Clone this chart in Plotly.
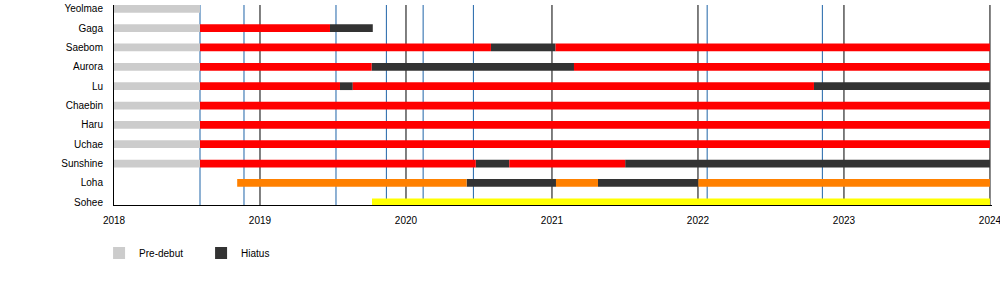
import datetime as dt
import plotly.graph_objects as go

# ---------------- data ----------------
members = ["Yeolmae", "Gaga", "Saebom", "Aurora", "Lu", "Chaebin", "Haru",
           "Uchae", "Sunshine", "Loha", "Sohee"]

axis_start = "2018-01-01"
axis_end = "2024-01-01"
debut = "2018-08-04"

# pre-debut periods (member, start, end)
predebut = [
    ("Yeolmae", axis_start, debut),
    ("Gaga", axis_start, debut),
    ("Saebom", axis_start, debut),
    ("Aurora", axis_start, debut),
    ("Lu", axis_start, debut),
    ("Chaebin", axis_start, debut),
    ("Haru", axis_start, debut),
    ("Uchae", axis_start, debut),
    ("Sunshine", axis_start, debut),
]

# active periods, original line-up (red)
active = [
    ("Gaga", debut, "2019-06-25"),
    ("Saebom", debut, "2020-08-01"),
    ("Saebom", "2021-01-10", axis_end),
    ("Aurora", debut, "2019-10-07"),
    ("Aurora", "2021-02-25", axis_end),
    ("Lu", debut, "2019-07-20"),
    ("Lu", "2019-08-21", "2022-10-18"),
    ("Chaebin", debut, axis_end),
    ("Haru", debut, axis_end),
    ("Uchae", debut, axis_end),
    ("Sunshine", debut, "2020-06-24"),
    ("Sunshine", "2020-09-16", "2021-07-03"),
]

# active periods, later member (orange)
active_loha = [
    ("Loha", "2018-11-05", "2020-06-01"),
    ("Loha", "2021-01-11", "2021-04-26"),
    ("Loha", "2022-01-02", axis_end),
]

# active periods, later member (yellow)
active_sohee = [
    ("Sohee", "2019-10-08", axis_end),
]

# hiatus periods (dark)
hiatus = [
    ("Gaga", "2019-06-25", "2019-10-10"),
    ("Saebom", "2020-08-01", "2021-01-10"),
    ("Aurora", "2019-10-07", "2021-02-25"),
    ("Lu", "2019-07-20", "2019-08-21"),
    ("Lu", "2022-10-18", axis_end),
    ("Sunshine", "2020-06-24", "2020-09-16"),
    ("Sunshine", "2021-07-03", axis_end),
    ("Loha", "2020-06-01", "2021-01-11"),
    ("Loha", "2021-04-26", "2022-01-02"),
]

# releases (blue lines)
releases = ["2018-08-04", "2018-11-22", "2019-07-10", "2019-11-13",
            "2020-02-13", "2020-06-18", "2022-01-24", "2022-11-08"]

year_ticks = [2018, 2019, 2020, 2021, 2022, 2023, 2024]
year_labels = ["2018", "2019", "2020", "2021", "2022", "2023", "2024"]


# ---------------- helpers ----------------
def frac_year(s):
    d = dt.date.fromisoformat(s)
    start = dt.date(d.year, 1, 1)
    nxt = dt.date(d.year + 1, 1, 1)
    return d.year + (d - start).days / (nxt - start).days


def bar_trace(segments, name, color, showlegend):
    ys = [members.index(m) for m, _, _ in segments]
    base = [frac_year(a) for _, a, _ in segments]
    length = [frac_year(b) - frac_year(a) for _, a, b in segments]
    return go.Bar(
        y=ys, x=length, base=base, orientation="h", name=name,
        marker=dict(color=color, line=dict(width=0)),
        width=0.4, showlegend=showlegend, hoverinfo="skip",
    )


fig = go.Figure()
fig.add_trace(bar_trace(predebut, "Pre-debut", "#cccccc", True))
fig.add_trace(bar_trace(hiatus, "Hiatus", "#333333", True))
fig.add_trace(bar_trace(active, "Active", "#ff0000", False))
fig.add_trace(bar_trace(active_loha, "Loha", "#ff8000", False))
fig.add_trace(bar_trace(active_sohee, "Sohee", "#ffff00", False))

shapes = []
for yv in year_ticks[1:]:
    shapes.append(dict(type="line", xref="x", yref="paper",
                       x0=yv, x1=yv, y0=0, y1=1,
                       line=dict(color="#000000", width=1), layer="below"))
for r in releases:
    xv = frac_year(r)
    shapes.append(dict(type="line", xref="x", yref="paper",
                       x0=xv, x1=xv, y0=0, y1=1,
                       line=dict(color="#1f64a8", width=1), layer="below"))

fig.update_layout(
    width=1000, height=285,
    margin=dict(l=114, r=8, t=5, b=80, autoexpand=False),
    paper_bgcolor="white", plot_bgcolor="white",
    font=dict(family="Liberation Sans, Arial, sans-serif", size=10, color="#000000"),
    barmode="overlay",
    shapes=shapes,
    showlegend=True,
    legend=dict(orientation="h", x=-0.017, xanchor="left", y=-0.24, yanchor="middle",
                font=dict(size=10), entrywidth=57, entrywidthmode="pixels",
                traceorder="normal"),
    xaxis=dict(range=[2018, 2024.014], tickvals=year_ticks, ticktext=year_labels,
               showgrid=False, zeroline=False, showline=True, linecolor="#000000",
               linewidth=1, ticks="", ticklabelstandoff=6, ticklabeloverflow="allow",
               automargin=False, fixedrange=True),
    yaxis=dict(range=[10.14, -0.196], tickvals=list(range(len(members))),
               ticktext=members, showgrid=False, zeroline=False, showline=True,
               linecolor="#000000", linewidth=1, ticks="", ticklabelstandoff=8,
               automargin=False, fixedrange=True),
)

fig.write_html("out.html")
